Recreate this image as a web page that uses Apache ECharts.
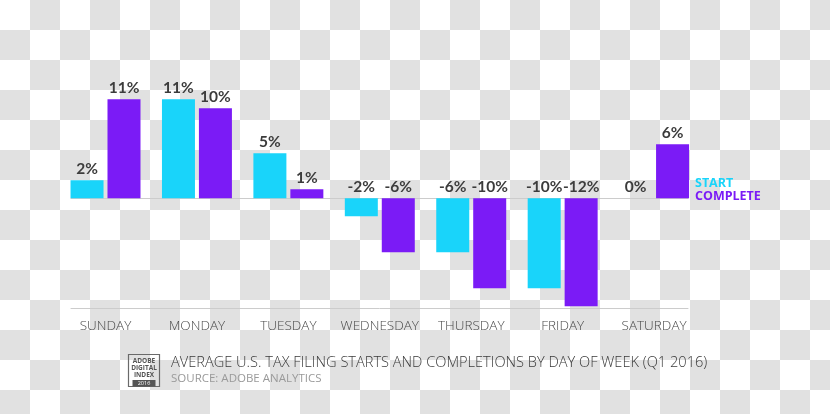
<!DOCTYPE html>
<html>
<head>
<meta charset="utf-8">
<script src="https://cdn.jsdelivr.net/npm/echarts@6/dist/echarts.min.js"></script>
<style>
  html, body { margin: 0; padding: 0; }
  body {
    width: 830px; height: 414px;
    background: repeating-conic-gradient(#e1e1e1 0 25%, #ffffff 0 50%) 0 0 / 60px 60px;
  }
  #chart { width: 830px; height: 414px; }
</style>
</head>
<body>
<div id="chart"></div>
<script>
const categories = ['SUNDAY', 'MONDAY', 'TUESDAY', 'WEDNESDAY', 'THURSDAY', 'FRIDAY', 'SATURDAY'];
const startValues = [2, 11, 5, -2, -6, -10, 0];
const completeValues = [11, 10, 1, -6, -10, -12, 6];
const seriesNames = ['START', 'COMPLETE'];
const titleText = 'AVERAGE U.S. TAX FILING STARTS AND COMPLETIONS BY DAY OF WEEK (Q1 2016)';
const subText = 'SOURCE: ADOBE ANALYTICS';

const CYAN = '#19d4fa';
const PURPLE = '#7b1bf6';
const yMin = -12.2, yMax = 12.2;

const chart = echarts.init(document.getElementById('chart'), null, { renderer: 'canvas' });

const labelStyle = {
  show: true,
  position: 'top',
  distance: 3,
  formatter: '{c}%',
  color: '#3c3c3c',
  fontFamily: 'Lato',
  fontWeight: 'bold',
  fontSize: 15.5
};

chart.setOption({
  backgroundColor: 'transparent',
  animation: false,
  title: {
    text: titleText,
    subtext: subText,
    left: 166,
    top: 350,
    itemGap: 3,
    textStyle: { fontFamily: 'Open Sans', fontWeight: 300, fontSize: 14.6, color: '#3a3a3a' },
    subtextStyle: { fontFamily: 'Open Sans', fontWeight: 'normal', fontSize: 11.5, color: '#9a9a9a' }
  },
  legend: {
    orient: 'vertical',
    left: 690,
    top: 172,
    itemGap: 0,
    itemWidth: 0,
    itemHeight: 10,
    icon: 'rect',
    selectedMode: false,
    textStyle: { fontFamily: 'Open Sans', fontWeight: 'bold', fontSize: 12.5, lineHeight: 12, padding: [0, 0, 0, -5] },
    data: [
      { name: seriesNames[0], textStyle: { color: CYAN } },
      { name: seriesNames[1], textStyle: { color: PURPLE } }
    ]
  },
  grid: [
    { left: 59.8, width: 640, top: 88.4, bottom: 106 },
    { left: 71, right: 142, top: 88.4, bottom: 106 }
  ],
  xAxis: [
    {
      type: 'category', gridIndex: 0, data: categories,
      axisLine: { show: false }, axisTick: { show: false },
      axisLabel: { interval: 0, margin: 11, color: '#4a4a4a', fontFamily: 'Open Sans', fontWeight: 300, fontSize: 13.5 }
    },
    {
      type: 'value', gridIndex: 1, min: 0, max: 1, position: 'bottom',
      axisLine: { show: true, onZero: false, lineStyle: { color: '#cccccc', width: 1 } },
      axisTick: { show: false }, axisLabel: { show: false }, splitLine: { show: false }
    },
    {
      type: 'value', gridIndex: 1, min: 0, max: 1, position: 'top',
      axisLine: { show: true, onZero: true, lineStyle: { color: '#cccccc', width: 1 } },
      axisTick: { show: false }, axisLabel: { show: false }, splitLine: { show: false }
    }
  ],
  yAxis: [
    { type: 'value', gridIndex: 0, min: yMin, max: yMax, show: false, splitLine: { show: false } },
    { type: 'value', gridIndex: 1, min: yMin, max: yMax, axisLine: { show: false }, axisTick: { show: false }, axisLabel: { show: false }, splitLine: { show: false } }
  ],
  series: [
    {
      name: seriesNames[0], type: 'bar', xAxisIndex: 0, yAxisIndex: 0,
      data: startValues, barWidth: 33, barGap: '12%',
      itemStyle: { color: CYAN }, label: labelStyle, z: 3
    },
    {
      name: seriesNames[1], type: 'bar', xAxisIndex: 0, yAxisIndex: 0,
      data: completeValues, barWidth: 33, barGap: '12%',
      itemStyle: { color: PURPLE }, label: labelStyle, z: 3
    }
  ],
  graphic: [
    {
      type: 'group', left: 126, top: 352,
      children: [
        { type: 'rect', shape: { x: 0, y: 0, width: 31, height: 32 }, style: { fill: 'none', stroke: '#6a6a6a', lineWidth: 1.2 } },
        { type: 'text', style: { x: 15.5, y: 3.5, text: 'ADOBE\nDIGITAL\nINDEX', align: 'center', fill: '#555', font: 'bold 6.5px "Open Sans"', lineHeight: 7 } },
        { type: 'rect', shape: { x: 4, y: 25.5, width: 23, height: 6.5 }, style: { fill: '#555' } },
        { type: 'text', style: { x: 15.5, y: 25.8, text: '2016', align: 'center', fill: '#fff', font: '5.5px "Open Sans"' } }
      ]
    }
  ]
});
</script>
</body>
</html>
